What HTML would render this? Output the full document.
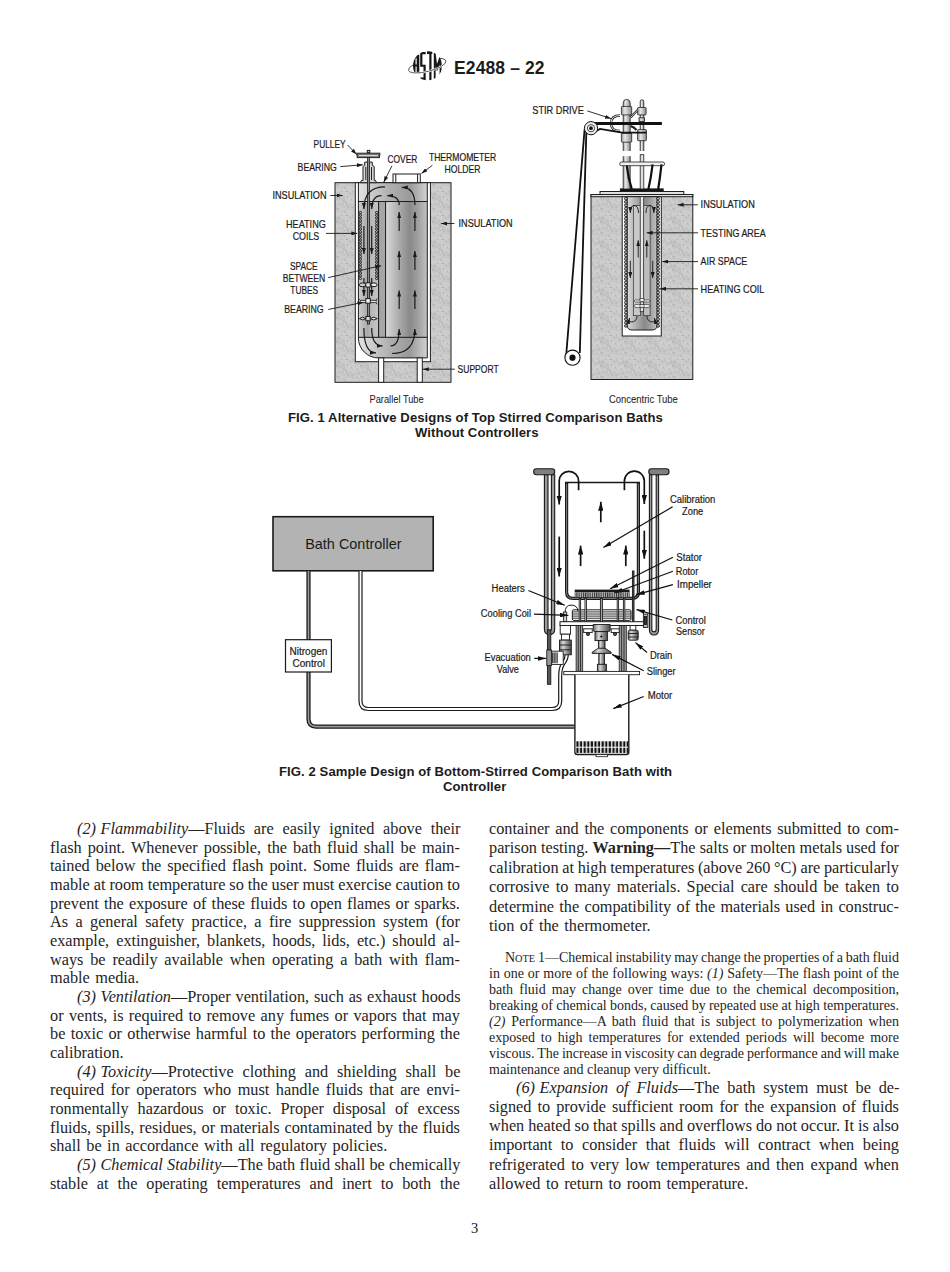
<!DOCTYPE html>
<html><head><meta charset="utf-8"><style>
html,body{margin:0;padding:0;background:#fff}
body{width:950px;height:1272px;position:relative;overflow:hidden}
.t{position:absolute;font-family:"Liberation Serif",serif;font-size:15.8px;line-height:16px;white-space:nowrap;color:#252525;transform:scaleX(1.03);transform-origin:0 0}
.n{position:absolute;font-family:"Liberation Serif",serif;font-size:13.6px;line-height:14px;white-space:nowrap;color:#252525;transform:scaleX(1.03);transform-origin:0 0}
.j{text-align:justify;text-align-last:justify;white-space:normal;height:16px;overflow:visible;word-spacing:-2px}
.w{word-spacing:1.4px}
.s1{display:inline-block;width:4.4px}
.sc{font-variant:small-caps}
.cap{position:absolute;font-family:"Liberation Sans",sans-serif;font-weight:bold;font-size:13.1px;letter-spacing:0.08px;line-height:14px;white-space:nowrap;color:#1c1c1c}
.hdr{position:absolute;font-family:"Liberation Sans",sans-serif;font-weight:bold;font-size:17.5px;letter-spacing:0.12px;line-height:18px;white-space:nowrap;color:#1c1c1c}
.pn{position:absolute;font-family:"Liberation Serif",serif;font-size:13px;line-height:14px;color:#1c1c1c}
svg{position:absolute;left:0;top:0}
</style></head><body>
<svg width="950" height="1272" viewBox="0 0 950 1272"><!--FIG--><defs><clipPath id="lc"><circle cx="427.6" cy="65.8" r="14.6"/></clipPath></defs>
<ellipse cx="427.2" cy="65.6" rx="19.2" ry="5.8" transform="rotate(-14 427.2 65.6)" fill="none" stroke="#333" stroke-width="0.8"/>
<circle cx="427.6" cy="65.8" r="14.6" fill="#fff"/>
<g clip-path="url(#lc)" fill="#161616">
<path d="M411,50 H415.5 V74 H411 Z"/>
<path d="M416.7,54.4 H419.3 V73.8 H416.7 Z"/>
<path d="M415,54.4 H417.5 V58.2 H415 Z"/>
<path d="M415,64.6 H417.5 V66.4 H415 Z"/>
<path d="M420.2,52 H425.7 V54.3 H422.4 V64.7 H425.7 V81 H420.2 V77.4 H423.5 V66.7 H420.2 Z"/>
<path d="M427,51 H432.3 V54.1 H431.5 V81 H429.3 V54.1 H427 Z"/>
<path d="M433.8,53 H435.6 L437,64 L439.4,57 H441.6 V76 H439.6 V64.5 L437.6,70.5 H436.4 L435.6,66 V80 H433.8 Z"/>
</g>
<path d="M408.5,70.3 A19.2,5.8 -14 0 0 445.9,60.9" fill="none" stroke="#fff" stroke-width="2"/>
<path d="M408.5,70.3 A19.2,5.8 -14 0 0 445.9,60.9" fill="none" stroke="#333" stroke-width="0.8"/>
<defs><pattern id="spk" width="24" height="24" patternUnits="userSpaceOnUse"><rect width="24" height="24" fill="#cdcdcd"/><rect x="10.9" y="13.4" width="1.0" height="1.0" fill="#aeaeae"/><rect x="12.2" y="14.1" width="1.2" height="1.2" fill="#b8b8b8"/><rect x="11.4" y="14.7" width="0.9" height="0.9" fill="#b8b8b8"/><rect x="10.7" y="3.4" width="1.2" height="1.2" fill="#c0c0c0"/><rect x="15.2" y="14.3" width="1.0" height="1.0" fill="#aeaeae"/><rect x="15.7" y="14.8" width="1.2" height="1.2" fill="#b8b8b8"/><rect x="0.4" y="12.7" width="0.9" height="0.9" fill="#b2b2b2"/><rect x="4.6" y="5.8" width="1.0" height="1.0" fill="#b2b2b2"/><rect x="7.8" y="14.2" width="1.2" height="1.2" fill="#b8b8b8"/><rect x="5.6" y="7.1" width="1.2" height="1.2" fill="#b2b2b2"/><rect x="2.0" y="15.7" width="1.2" height="1.2" fill="#aeaeae"/><rect x="23.9" y="20.2" width="1.0" height="1.0" fill="#d6d6d6"/><rect x="7.6" y="5.5" width="0.9" height="0.9" fill="#bcbcbc"/><rect x="1.7" y="18.4" width="0.9" height="0.9" fill="#aeaeae"/><rect x="20.3" y="9.3" width="1.2" height="1.2" fill="#b2b2b2"/><rect x="0.0" y="5.0" width="1.0" height="1.0" fill="#b2b2b2"/><rect x="9.0" y="17.0" width="0.9" height="0.9" fill="#aeaeae"/><rect x="13.6" y="4.8" width="1.0" height="1.0" fill="#d6d6d6"/><rect x="8.1" y="7.5" width="1.0" height="1.0" fill="#b2b2b2"/><rect x="18.2" y="2.8" width="1.2" height="1.2" fill="#b8b8b8"/><rect x="2.4" y="1.4" width="0.9" height="0.9" fill="#aeaeae"/><rect x="16.4" y="4.5" width="0.9" height="0.9" fill="#c0c0c0"/><rect x="23.6" y="18.5" width="1.2" height="1.2" fill="#aeaeae"/><rect x="9.2" y="9.5" width="0.9" height="0.9" fill="#b8b8b8"/><rect x="6.5" y="23.3" width="1.0" height="1.0" fill="#c0c0c0"/><rect x="23.9" y="0.5" width="1.0" height="1.0" fill="#b8b8b8"/><rect x="23.9" y="14.4" width="0.9" height="0.9" fill="#c0c0c0"/><rect x="1.0" y="3.5" width="1.0" height="1.0" fill="#aeaeae"/><rect x="0.2" y="14.6" width="1.0" height="1.0" fill="#bcbcbc"/><rect x="1.8" y="2.2" width="1.2" height="1.2" fill="#c0c0c0"/><rect x="5.8" y="14.4" width="1.2" height="1.2" fill="#bcbcbc"/><rect x="10.9" y="23.0" width="1.2" height="1.2" fill="#aeaeae"/><rect x="3.3" y="9.3" width="0.9" height="0.9" fill="#d6d6d6"/><rect x="7.5" y="5.5" width="0.9" height="0.9" fill="#c0c0c0"/><rect x="17.4" y="3.8" width="1.2" height="1.2" fill="#d6d6d6"/><rect x="4.7" y="22.8" width="1.2" height="1.2" fill="#aeaeae"/><rect x="1.9" y="1.1" width="0.9" height="0.9" fill="#b2b2b2"/><rect x="12.3" y="6.1" width="1.2" height="1.2" fill="#d6d6d6"/><rect x="9.4" y="10.1" width="1.0" height="1.0" fill="#c0c0c0"/><rect x="7.0" y="4.2" width="0.9" height="0.9" fill="#d6d6d6"/><rect x="3.0" y="11.5" width="1.2" height="1.2" fill="#d6d6d6"/><rect x="14.7" y="6.7" width="1.2" height="1.2" fill="#b8b8b8"/><rect x="0.4" y="6.5" width="0.9" height="0.9" fill="#aeaeae"/><rect x="1.5" y="4.2" width="1.2" height="1.2" fill="#bcbcbc"/><rect x="13.7" y="3.2" width="0.9" height="0.9" fill="#bcbcbc"/><rect x="21.4" y="23.5" width="1.2" height="1.2" fill="#d6d6d6"/><rect x="16.6" y="14.0" width="1.2" height="1.2" fill="#b8b8b8"/><rect x="0.8" y="0.4" width="1.2" height="1.2" fill="#bcbcbc"/><rect x="7.5" y="0.8" width="1.2" height="1.2" fill="#c0c0c0"/><rect x="1.8" y="1.6" width="1.0" height="1.0" fill="#bcbcbc"/><rect x="3.3" y="1.7" width="1.2" height="1.2" fill="#aeaeae"/><rect x="8.8" y="1.1" width="1.2" height="1.2" fill="#d6d6d6"/><rect x="16.9" y="19.0" width="1.0" height="1.0" fill="#bcbcbc"/><rect x="2.0" y="11.4" width="1.0" height="1.0" fill="#b2b2b2"/><rect x="22.7" y="0.7" width="1.2" height="1.2" fill="#aeaeae"/><rect x="0.3" y="15.9" width="1.2" height="1.2" fill="#aeaeae"/><rect x="0.3" y="1.7" width="1.2" height="1.2" fill="#b2b2b2"/><rect x="2.8" y="6.2" width="1.2" height="1.2" fill="#aeaeae"/><rect x="7.9" y="22.4" width="1.2" height="1.2" fill="#d6d6d6"/><rect x="11.0" y="11.1" width="0.9" height="0.9" fill="#c0c0c0"/><rect x="12.4" y="12.3" width="1.2" height="1.2" fill="#bcbcbc"/><rect x="2.1" y="0.5" width="0.9" height="0.9" fill="#d6d6d6"/><rect x="11.9" y="14.7" width="1.0" height="1.0" fill="#aeaeae"/><rect x="21.5" y="8.8" width="1.2" height="1.2" fill="#b8b8b8"/><rect x="14.7" y="12.4" width="1.2" height="1.2" fill="#bcbcbc"/><rect x="22.3" y="12.0" width="1.0" height="1.0" fill="#b8b8b8"/><rect x="9.7" y="6.0" width="1.0" height="1.0" fill="#d6d6d6"/><rect x="19.3" y="18.1" width="0.9" height="0.9" fill="#b8b8b8"/><rect x="9.2" y="14.0" width="0.9" height="0.9" fill="#bcbcbc"/><rect x="3.3" y="11.9" width="1.2" height="1.2" fill="#b2b2b2"/><rect x="1.5" y="23.5" width="0.9" height="0.9" fill="#b8b8b8"/><rect x="10.8" y="6.6" width="1.0" height="1.0" fill="#b8b8b8"/><rect x="9.2" y="12.5" width="1.0" height="1.0" fill="#d6d6d6"/><rect x="17.2" y="20.2" width="1.0" height="1.0" fill="#c0c0c0"/><rect x="7.7" y="19.9" width="1.2" height="1.2" fill="#bcbcbc"/><rect x="1.0" y="17.0" width="1.0" height="1.0" fill="#c0c0c0"/><rect x="7.4" y="19.0" width="1.2" height="1.2" fill="#b2b2b2"/><rect x="3.3" y="10.9" width="1.0" height="1.0" fill="#b2b2b2"/><rect x="5.7" y="3.4" width="1.2" height="1.2" fill="#b2b2b2"/><rect x="2.8" y="2.6" width="1.2" height="1.2" fill="#c0c0c0"/><rect x="15.4" y="8.8" width="1.2" height="1.2" fill="#b2b2b2"/><rect x="4.8" y="19.8" width="0.9" height="0.9" fill="#bcbcbc"/><rect x="17.1" y="18.1" width="1.2" height="1.2" fill="#c0c0c0"/><rect x="0.9" y="5.4" width="1.2" height="1.2" fill="#bcbcbc"/><rect x="16.7" y="12.5" width="0.9" height="0.9" fill="#c0c0c0"/><rect x="9.4" y="19.0" width="0.9" height="0.9" fill="#b8b8b8"/><rect x="9.9" y="21.4" width="0.9" height="0.9" fill="#aeaeae"/><rect x="10.8" y="4.7" width="1.0" height="1.0" fill="#b2b2b2"/><rect x="13.2" y="15.7" width="1.0" height="1.0" fill="#c0c0c0"/><rect x="11.1" y="15.6" width="0.9" height="0.9" fill="#b8b8b8"/><rect x="17.3" y="19.6" width="1.2" height="1.2" fill="#d6d6d6"/><rect x="3.0" y="5.8" width="0.9" height="0.9" fill="#aeaeae"/><rect x="23.5" y="12.9" width="1.0" height="1.0" fill="#bcbcbc"/><rect x="21.8" y="20.5" width="1.2" height="1.2" fill="#bcbcbc"/><rect x="2.0" y="10.6" width="1.0" height="1.0" fill="#c0c0c0"/><rect x="18.4" y="11.7" width="0.9" height="0.9" fill="#b2b2b2"/><rect x="19.4" y="1.5" width="0.9" height="0.9" fill="#b2b2b2"/><rect x="12.8" y="16.5" width="1.0" height="1.0" fill="#b8b8b8"/><rect x="3.6" y="12.4" width="1.2" height="1.2" fill="#d6d6d6"/><rect x="20.2" y="16.5" width="1.2" height="1.2" fill="#aeaeae"/><rect x="22.8" y="2.1" width="1.0" height="1.0" fill="#b8b8b8"/><rect x="12.6" y="7.0" width="1.2" height="1.2" fill="#d6d6d6"/><rect x="15.3" y="12.5" width="1.0" height="1.0" fill="#c0c0c0"/><rect x="7.5" y="9.1" width="0.9" height="0.9" fill="#c0c0c0"/><rect x="7.3" y="3.4" width="1.2" height="1.2" fill="#c0c0c0"/><rect x="6.6" y="11.9" width="1.2" height="1.2" fill="#aeaeae"/><rect x="2.7" y="0.1" width="0.9" height="0.9" fill="#aeaeae"/><rect x="12.9" y="1.1" width="1.2" height="1.2" fill="#aeaeae"/><rect x="19.2" y="13.5" width="0.9" height="0.9" fill="#aeaeae"/><rect x="16.6" y="1.6" width="1.0" height="1.0" fill="#c0c0c0"/><rect x="9.9" y="23.0" width="1.0" height="1.0" fill="#aeaeae"/><rect x="5.9" y="11.8" width="1.0" height="1.0" fill="#bcbcbc"/><rect x="21.6" y="22.5" width="1.2" height="1.2" fill="#aeaeae"/><rect x="7.6" y="4.6" width="0.9" height="0.9" fill="#c0c0c0"/><rect x="22.2" y="3.1" width="0.9" height="0.9" fill="#b2b2b2"/><rect x="4.7" y="5.5" width="1.0" height="1.0" fill="#d6d6d6"/><rect x="7.7" y="8.5" width="1.0" height="1.0" fill="#c0c0c0"/><rect x="2.5" y="17.5" width="1.2" height="1.2" fill="#b2b2b2"/><rect x="15.0" y="17.2" width="1.2" height="1.2" fill="#d6d6d6"/><rect x="21.1" y="0.6" width="1.0" height="1.0" fill="#d6d6d6"/><rect x="19.8" y="14.8" width="0.9" height="0.9" fill="#c0c0c0"/><rect x="20.7" y="12.8" width="1.2" height="1.2" fill="#b8b8b8"/><rect x="5.2" y="13.0" width="0.9" height="0.9" fill="#c0c0c0"/><rect x="5.6" y="17.8" width="0.9" height="0.9" fill="#bcbcbc"/><rect x="7.6" y="7.6" width="0.9" height="0.9" fill="#b8b8b8"/><rect x="18.7" y="4.7" width="0.9" height="0.9" fill="#b2b2b2"/><rect x="21.3" y="3.2" width="1.0" height="1.0" fill="#b2b2b2"/><rect x="9.3" y="10.4" width="1.2" height="1.2" fill="#aeaeae"/><rect x="19.0" y="3.0" width="1.2" height="1.2" fill="#aeaeae"/><rect x="16.4" y="0.4" width="1.2" height="1.2" fill="#b8b8b8"/><rect x="16.4" y="21.9" width="0.9" height="0.9" fill="#bcbcbc"/><rect x="16.9" y="15.2" width="1.2" height="1.2" fill="#bcbcbc"/><rect x="24.0" y="20.0" width="1.0" height="1.0" fill="#b2b2b2"/><rect x="2.5" y="0.9" width="1.2" height="1.2" fill="#c0c0c0"/><rect x="12.4" y="13.6" width="0.9" height="0.9" fill="#b8b8b8"/><rect x="4.4" y="4.9" width="1.0" height="1.0" fill="#b8b8b8"/><rect x="22.2" y="2.3" width="0.9" height="0.9" fill="#b2b2b2"/><rect x="22.8" y="11.1" width="1.0" height="1.0" fill="#b2b2b2"/><rect x="9.4" y="10.2" width="1.0" height="1.0" fill="#bcbcbc"/><rect x="5.0" y="9.0" width="1.2" height="1.2" fill="#d6d6d6"/><rect x="1.0" y="4.8" width="1.0" height="1.0" fill="#aeaeae"/><rect x="8.6" y="8.9" width="1.2" height="1.2" fill="#b8b8b8"/><rect x="4.0" y="12.3" width="1.0" height="1.0" fill="#b2b2b2"/><rect x="21.4" y="19.2" width="1.2" height="1.2" fill="#d6d6d6"/><rect x="22.6" y="13.7" width="1.2" height="1.2" fill="#b8b8b8"/><rect x="14.0" y="8.2" width="1.0" height="1.0" fill="#bcbcbc"/><rect x="21.9" y="17.9" width="1.0" height="1.0" fill="#b8b8b8"/><rect x="3.2" y="7.9" width="1.2" height="1.2" fill="#c0c0c0"/><rect x="8.9" y="10.4" width="1.0" height="1.0" fill="#b8b8b8"/><rect x="5.0" y="4.4" width="1.0" height="1.0" fill="#bcbcbc"/><rect x="11.3" y="0.3" width="1.2" height="1.2" fill="#bcbcbc"/><rect x="21.7" y="1.2" width="1.2" height="1.2" fill="#bcbcbc"/><rect x="7.2" y="5.2" width="1.2" height="1.2" fill="#aeaeae"/><rect x="4.4" y="1.8" width="1.0" height="1.0" fill="#c0c0c0"/><rect x="15.4" y="16.8" width="1.2" height="1.2" fill="#aeaeae"/><rect x="0.5" y="14.8" width="0.9" height="0.9" fill="#d6d6d6"/><rect x="6.2" y="9.6" width="0.9" height="0.9" fill="#b2b2b2"/><rect x="15.6" y="0.3" width="1.0" height="1.0" fill="#bcbcbc"/><rect x="6.6" y="8.2" width="1.2" height="1.2" fill="#c0c0c0"/><rect x="10.0" y="12.5" width="1.2" height="1.2" fill="#b2b2b2"/><rect x="10.7" y="15.5" width="1.2" height="1.2" fill="#c0c0c0"/><rect x="16.0" y="22.9" width="0.9" height="0.9" fill="#aeaeae"/><rect x="9.3" y="23.3" width="1.2" height="1.2" fill="#aeaeae"/><rect x="14.7" y="1.4" width="1.0" height="1.0" fill="#aeaeae"/><rect x="6.8" y="9.6" width="1.0" height="1.0" fill="#bcbcbc"/><rect x="12.7" y="11.6" width="1.2" height="1.2" fill="#bcbcbc"/><rect x="22.3" y="15.9" width="1.0" height="1.0" fill="#d6d6d6"/><rect x="0.6" y="18.5" width="0.9" height="0.9" fill="#c0c0c0"/><rect x="15.2" y="9.8" width="1.0" height="1.0" fill="#d6d6d6"/><rect x="1.3" y="7.6" width="0.9" height="0.9" fill="#aeaeae"/></pattern>
<linearGradient id="gCyl" x1="0" x2="1" y1="0" y2="0"><stop offset="0" stop-color="#dadada"/><stop offset="0.27" stop-color="#b2b2b2"/><stop offset="0.58" stop-color="#898989"/><stop offset="0.78" stop-color="#a0a0a0"/><stop offset="1" stop-color="#c2c2c2"/></linearGradient>
<linearGradient id="gCover" x1="0" x2="1" y1="0" y2="0">
<stop offset="0" stop-color="#e2e2e2"/><stop offset="0.45" stop-color="#b0b0b0"/><stop offset="0.75" stop-color="#9a9a9a"/><stop offset="1" stop-color="#d2d2d2"/>
</linearGradient>
<linearGradient id="gNar" x1="0" x2="1" y1="0" y2="0"><stop offset="0" stop-color="#cdcdcd"/><stop offset="0.45" stop-color="#a9a9a9"/><stop offset="0.55" stop-color="#b4b4b4"/><stop offset="1" stop-color="#c6c6c6"/></linearGradient>
<linearGradient id="gRod" x1="0" x2="1" y1="0" y2="0">
<stop offset="0" stop-color="#9a9a9a"/><stop offset="0.35" stop-color="#e8e8e8"/><stop offset="1" stop-color="#8a8a8a"/>
</linearGradient>
<marker id="ah" viewBox="0 0 6 4" refX="6" refY="2" markerWidth="6" markerHeight="4" orient="auto-start-reverse" markerUnits="userSpaceOnUse"><path d="M0,0 L6,2 L0,4 z" fill="#1a1a1a"/></marker>
<marker id="ah6" viewBox="0 0 9 5.4" refX="9" refY="2.7" markerWidth="9" markerHeight="5.4" orient="auto-start-reverse" markerUnits="userSpaceOnUse"><path d="M0,0 L9,2.7 L0,5.4 z" fill="#111"/></marker><marker id="ah7" viewBox="0 0 8.5 4.6" refX="8.5" refY="2.3" markerWidth="8.5" markerHeight="4.6" orient="auto-start-reverse" markerUnits="userSpaceOnUse"><path d="M0,0 L8.5,2.3 L0,4.6 z" fill="#111"/></marker>
<filter id="stip" x="0" y="0" width="1" height="1"><feTurbulence type="fractalNoise" baseFrequency="0.9" numOctaves="1" seed="3" result="n"/><feColorMatrix in="n" type="matrix" values="0 0 0 0 0.78  0 0 0 0 0.78  0 0 0 0 0.78  0 0 0 -1.2 0.9" result="c"/><feComposite in="c" in2="SourceGraphic" operator="in"/></filter>
</defs>
<!-- ===== Parallel tube ===== -->
<g stroke="#1e1e1e" stroke-width="1">
<rect x="335" y="182.7" width="116" height="199.6" fill="url(#spk)"/>
<rect x="355.3" y="182.7" width="75.1" height="179" fill="#fff"/>
<!-- cover -->
<rect x="358.4" y="182.7" width="68.9" height="18.8" fill="url(#gCover)"/>
<!-- narrow tube + divider + wide tube -->
<rect x="358.4" y="201.5" width="20.2" height="136" fill="url(#gNar)"/>
<rect x="378.6" y="201.5" width="7" height="136" fill="#a6a6a6"/>
<rect x="385.6" y="201.5" width="41.7" height="136" fill="url(#gCyl)"/>
<!-- bottom -->
<path d="M358.4,337.3 H427.3 V357.9 H378.4 A20,20 0 0 1 358.4,337.9 Z" fill="url(#gCover)"/>
<!-- legs -->
<rect x="378.6" y="357.9" width="5.1" height="24.4" fill="#fff"/>
<rect x="417.2" y="357.9" width="5.1" height="24.4" fill="#fff"/>
<!-- thermometer holder -->
<rect x="393" y="174" width="27.3" height="8.7" fill="#fff"/>
<line x1="395.8" y1="174" x2="395.8" y2="182.7"/><line x1="417.6" y1="174" x2="417.6" y2="182.7"/>
<!-- bearing -->
<path d="M360.3,182.7 L361.5,180.4 H363 V166.5 L364.7,165.5 V162.1 H372.3 V165.5 L374.2,166.5 V180.4 H375.6 L376.4,182.7 Z" fill="#d8d8d8"/>
<line x1="365.8" y1="167" x2="365.8" y2="180"/><line x1="371.5" y1="167" x2="371.5" y2="180"/>
<!-- pulley -->
<rect x="356.8" y="153.2" width="23" height="1.9" fill="#aaa"/>
<rect x="357.2" y="155.9" width="22.2" height="1.7" fill="#ccc"/>
<rect x="358.6" y="155.1" width="19.4" height="0.8" fill="#fff" stroke="none"/>
<rect x="367.3" y="150.4" width="2.5" height="2.2" fill="#ccc"/>
</g>
<!-- shaft -->
<rect x="367.5" y="157.6" width="2" height="166.5" fill="#8a8a8a" stroke="#1e1e1e" stroke-width="0.8"/>
<!-- coils -->
<g fill="#bdbdbd" stroke="#111" stroke-width="0.85">
<circle cx="360.4" cy="212.5" r="1.15"/><circle cx="376.6" cy="212.5" r="1.15"/><circle cx="360.4" cy="215.2" r="1.15"/><circle cx="376.6" cy="215.2" r="1.15"/><circle cx="360.4" cy="218.0" r="1.15"/><circle cx="376.6" cy="218.0" r="1.15"/><circle cx="360.4" cy="220.8" r="1.15"/><circle cx="376.6" cy="220.8" r="1.15"/><circle cx="360.4" cy="223.5" r="1.15"/><circle cx="376.6" cy="223.5" r="1.15"/><circle cx="360.4" cy="226.2" r="1.15"/><circle cx="376.6" cy="226.2" r="1.15"/><circle cx="360.4" cy="229.0" r="1.15"/><circle cx="376.6" cy="229.0" r="1.15"/><circle cx="360.4" cy="231.8" r="1.15"/><circle cx="376.6" cy="231.8" r="1.15"/><circle cx="360.4" cy="234.5" r="1.15"/><circle cx="376.6" cy="234.5" r="1.15"/><circle cx="360.4" cy="237.2" r="1.15"/><circle cx="376.6" cy="237.2" r="1.15"/><circle cx="360.4" cy="240.0" r="1.15"/><circle cx="376.6" cy="240.0" r="1.15"/><circle cx="360.4" cy="242.8" r="1.15"/><circle cx="376.6" cy="242.8" r="1.15"/><circle cx="360.4" cy="245.5" r="1.15"/><circle cx="376.6" cy="245.5" r="1.15"/><circle cx="360.4" cy="248.2" r="1.15"/><circle cx="376.6" cy="248.2" r="1.15"/><circle cx="360.4" cy="251.0" r="1.15"/><circle cx="376.6" cy="251.0" r="1.15"/><circle cx="360.4" cy="253.8" r="1.15"/><circle cx="376.6" cy="253.8" r="1.15"/><circle cx="360.4" cy="256.5" r="1.15"/><circle cx="376.6" cy="256.5" r="1.15"/><circle cx="360.4" cy="259.2" r="1.15"/><circle cx="376.6" cy="259.2" r="1.15"/><circle cx="360.4" cy="262.0" r="1.15"/><circle cx="376.6" cy="262.0" r="1.15"/><circle cx="360.4" cy="264.8" r="1.15"/><circle cx="376.6" cy="264.8" r="1.15"/><circle cx="360.4" cy="267.5" r="1.15"/><circle cx="376.6" cy="267.5" r="1.15"/><circle cx="360.4" cy="270.2" r="1.15"/><circle cx="376.6" cy="270.2" r="1.15"/><circle cx="360.4" cy="273.0" r="1.15"/><circle cx="376.6" cy="273.0" r="1.15"/><circle cx="360.4" cy="275.8" r="1.15"/><circle cx="376.6" cy="275.8" r="1.15"/><circle cx="360.4" cy="278.5" r="1.15"/><circle cx="376.6" cy="278.5" r="1.15"/>
</g>
<!-- flow arrows -->
<g stroke="#1a1a1a" stroke-width="1.2" fill="none" marker-end="url(#ah)">
<path d="M385,186.8 Q364,186.8 363.9,209"/>
<path d="M381.5,195.6 Q371.8,195.6 371.7,209"/>
<path d="M399.2,205 Q399.2,195.6 387.2,195.6"/>
<path d="M414.9,205 Q414.9,187.4 401.8,187.4"/>
<path d="M399.2,231 V212"/><path d="M414.9,231 V212"/>
<path d="M399.2,270 V251"/><path d="M414.9,270 V251"/>
<path d="M399.2,309 V290.5"/><path d="M414.9,309 V290.5"/>
<path d="M363.9,226 V254"/><path d="M371.7,226 V254"/>
<path d="M363.9,278 V296"/><path d="M371.7,278 V296"/>
<path d="M363.9,328 Q363.9,352.8 376,352.8"/>
<path d="M371.7,328 Q371.7,345.9 382.5,345.9"/>
<path d="M390.6,345.9 Q399.2,345.9 399.2,329"/>
<path d="M391.9,353.5 Q414.9,353.5 414.9,329"/>
</g>
<!-- impellers -->
<g stroke="#1a1a1a" stroke-width="1" fill="#cfcfcf">
<ellipse cx="362.6" cy="284.8" rx="3.4" ry="1.9"/><ellipse cx="374" cy="284.8" rx="3.1" ry="1.9" fill="#eee"/>
<rect x="365.9" y="282.8" width="4.3" height="4.3" fill="#eaeaea"/>
<path d="M359.2,299.2 L360.5,300.4 H366 V302.6 H360.5 L359.4,303.8 M370.3,300.4 H375.5 L377.4,298.6 M370.3,302.6 H375.5 L377.4,304.2" fill="none" stroke-width="0.9"/>
<rect x="360.2" y="300.4" width="16" height="2.2" fill="#e6e6e6" stroke-width="0.6"/>
<rect x="365.8" y="298.6" width="4.5" height="4.6" fill="#f2f2f2"/>
<path d="M359.4,318.6 Q362.5,315.8 365.9,318.6 Q362.5,321.4 359.4,318.6Z"/><path d="M370.3,318.6 Q373.8,315.8 377.2,318.6 Q373.8,321.4 370.3,318.6Z" fill="#eee"/>
<rect x="365.9" y="316.4" width="4.3" height="4.4" fill="#d8d8d8"/>
</g>
<!-- leader lines -->
<g stroke="#1a1a1a" stroke-width="0.9" fill="none" marker-end="url(#ah)">
<path d="M347.6,145 L356.6,154.5"/>
<path d="M340.3,166.6 L362.9,164.8"/>
<path d="M330.3,195.5 H342.6"/>
<path d="M326,233.4 H357.3"/>
<path d="M328.2,277.6 L381.2,265.7"/>
<path d="M328.2,309.5 L363.5,302.3"/>
<path d="M391.9,165.9 L383.7,182.3"/>
<path d="M432.4,165.3 L421.4,173.4"/>
<path d="M454.4,223.5 H441"/>
<path d="M454.9,369.2 H422.8"/>
</g>
<g font-family="Liberation Sans, sans-serif" font-size="10.2" fill="#1c1c1c" stroke="#1c1c1c" stroke-width="0.2" transform="translate(0,0.7)">
<text x="313.6" y="147.8" textLength="31.9" lengthAdjust="spacingAndGlyphs">PULLEY</text>
<text x="297.6" y="170.6" textLength="39.3" lengthAdjust="spacingAndGlyphs">BEARING</text>
<text x="272.4" y="198.7" textLength="54.2" lengthAdjust="spacingAndGlyphs">INSULATION</text>
<text x="286" y="227.4" textLength="39.8" lengthAdjust="spacingAndGlyphs">HEATING</text>
<text x="292.7" y="239.2" textLength="26.5" lengthAdjust="spacingAndGlyphs">COILS</text>
<text x="289.9" y="269.8" textLength="27.7" lengthAdjust="spacingAndGlyphs">SPACE</text>
<text x="282.7" y="281.6" textLength="42.5" lengthAdjust="spacingAndGlyphs">BETWEEN</text>
<text x="290.3" y="293.2" textLength="27.9" lengthAdjust="spacingAndGlyphs">TUBES</text>
<text x="284.3" y="312.1" textLength="39.3" lengthAdjust="spacingAndGlyphs">BEARING</text>
<text x="387.5" y="162.5" textLength="29.9" lengthAdjust="spacingAndGlyphs">COVER</text>
<text x="428.9" y="160.3" textLength="67.4" lengthAdjust="spacingAndGlyphs">THERMOMETER</text>
<text x="444.6" y="171.9" textLength="35.9" lengthAdjust="spacingAndGlyphs">HOLDER</text>
<text x="458.5" y="226.6" textLength="54.2" lengthAdjust="spacingAndGlyphs">INSULATION</text>
<text x="457.6" y="372.2" textLength="41" lengthAdjust="spacingAndGlyphs">SUPPORT</text>
<text x="369.5" y="402.8" textLength="54.2" lengthAdjust="spacingAndGlyphs" stroke-width="0.05">Parallel Tube</text>
<text x="532.3" y="113.3" textLength="51.5" lengthAdjust="spacingAndGlyphs">STIR DRIVE</text>
<text x="700.6" y="207.1" textLength="54.2" lengthAdjust="spacingAndGlyphs">INSULATION</text>
<text x="700.6" y="235.9" textLength="65.2" lengthAdjust="spacingAndGlyphs">TESTING AREA</text>
<text x="700.6" y="264.6" textLength="46.6" lengthAdjust="spacingAndGlyphs">AIR SPACE</text>
<text x="700.6" y="292" textLength="63.8" lengthAdjust="spacingAndGlyphs">HEATING COIL</text>
<text x="608.9" y="402.8" textLength="69" lengthAdjust="spacingAndGlyphs" stroke-width="0.05">Concentric Tube</text>
</g>
<!-- ===== Concentric tube ===== -->
<g stroke="#1e1e1e" stroke-width="1">
<rect x="591" y="194.5" width="101.8" height="185" fill="url(#spk)"/>
<rect x="591" y="194.5" width="101.8" height="2.2" fill="#e4e4e4"/>
<rect x="622.2" y="196.7" width="39.1" height="139.3" fill="#fff"/>
<rect x="600" y="191.5" width="83.8" height="3" fill="#e0e0e0"/>
<rect x="620.4" y="188.9" width="42.8" height="2.6" fill="#111"/>
<!-- inner tube -->
<path d="M627.2,196.7 H657.1 V325 Q657.1,330 652.1,330 H632.2 Q627.2,330 627.2,325 Z" fill="url(#gCyl)"/>
<rect x="633.5" y="205.7" width="7" height="110" fill="#c8c8c8" stroke-width="0.6"/>
<rect x="643.7" y="205.7" width="6.4" height="110" fill="#bdbdbd" stroke-width="0.6"/>
<rect x="640.2" y="196.7" width="3.5" height="115" fill="#e8e8e8" stroke-width="0.7"/>
</g>
<g fill="#bdbdbd" stroke="#111" stroke-width="0.85">
<circle cx="625.9" cy="198.6" r="1.4"/><circle cx="658.1" cy="198.6" r="1.4"/><circle cx="625.9" cy="201.9" r="1.4"/><circle cx="658.1" cy="201.9" r="1.4"/><circle cx="625.9" cy="205.3" r="1.4"/><circle cx="658.1" cy="205.3" r="1.4"/><circle cx="625.9" cy="208.6" r="1.4"/><circle cx="658.1" cy="208.6" r="1.4"/><circle cx="625.9" cy="212.0" r="1.4"/><circle cx="658.1" cy="212.0" r="1.4"/><circle cx="625.9" cy="215.3" r="1.4"/><circle cx="658.1" cy="215.3" r="1.4"/><circle cx="625.9" cy="218.7" r="1.4"/><circle cx="658.1" cy="218.7" r="1.4"/><circle cx="625.9" cy="222.0" r="1.4"/><circle cx="658.1" cy="222.0" r="1.4"/><circle cx="625.9" cy="225.4" r="1.4"/><circle cx="658.1" cy="225.4" r="1.4"/><circle cx="625.9" cy="228.7" r="1.4"/><circle cx="658.1" cy="228.7" r="1.4"/><circle cx="625.9" cy="232.1" r="1.4"/><circle cx="658.1" cy="232.1" r="1.4"/><circle cx="625.9" cy="235.4" r="1.4"/><circle cx="658.1" cy="235.4" r="1.4"/><circle cx="625.9" cy="238.8" r="1.4"/><circle cx="658.1" cy="238.8" r="1.4"/><circle cx="625.9" cy="242.1" r="1.4"/><circle cx="658.1" cy="242.1" r="1.4"/><circle cx="625.9" cy="245.5" r="1.4"/><circle cx="658.1" cy="245.5" r="1.4"/><circle cx="625.9" cy="248.8" r="1.4"/><circle cx="658.1" cy="248.8" r="1.4"/><circle cx="625.9" cy="252.2" r="1.4"/><circle cx="658.1" cy="252.2" r="1.4"/><circle cx="625.9" cy="255.5" r="1.4"/><circle cx="658.1" cy="255.5" r="1.4"/><circle cx="625.9" cy="258.9" r="1.4"/><circle cx="658.1" cy="258.9" r="1.4"/><circle cx="625.9" cy="262.2" r="1.4"/><circle cx="658.1" cy="262.2" r="1.4"/><circle cx="625.9" cy="265.6" r="1.4"/><circle cx="658.1" cy="265.6" r="1.4"/><circle cx="625.9" cy="268.9" r="1.4"/><circle cx="658.1" cy="268.9" r="1.4"/><circle cx="625.9" cy="272.3" r="1.4"/><circle cx="658.1" cy="272.3" r="1.4"/><circle cx="625.9" cy="275.7" r="1.4"/><circle cx="658.1" cy="275.7" r="1.4"/><circle cx="625.9" cy="279.0" r="1.4"/><circle cx="658.1" cy="279.0" r="1.4"/><circle cx="625.9" cy="282.4" r="1.4"/><circle cx="658.1" cy="282.4" r="1.4"/><circle cx="625.9" cy="285.7" r="1.4"/><circle cx="658.1" cy="285.7" r="1.4"/><circle cx="625.9" cy="289.1" r="1.4"/><circle cx="658.1" cy="289.1" r="1.4"/><circle cx="625.9" cy="292.4" r="1.4"/><circle cx="658.1" cy="292.4" r="1.4"/><circle cx="625.9" cy="295.8" r="1.4"/><circle cx="658.1" cy="295.8" r="1.4"/><circle cx="625.9" cy="299.1" r="1.4"/><circle cx="658.1" cy="299.1" r="1.4"/><circle cx="625.9" cy="302.5" r="1.4"/><circle cx="658.1" cy="302.5" r="1.4"/><circle cx="625.9" cy="305.8" r="1.4"/><circle cx="658.1" cy="305.8" r="1.4"/><circle cx="625.9" cy="309.2" r="1.4"/><circle cx="658.1" cy="309.2" r="1.4"/><circle cx="625.9" cy="312.5" r="1.4"/><circle cx="658.1" cy="312.5" r="1.4"/><circle cx="625.9" cy="315.9" r="1.4"/><circle cx="658.1" cy="315.9" r="1.4"/><circle cx="625.9" cy="319.2" r="1.4"/><circle cx="658.1" cy="319.2" r="1.4"/><circle cx="625.9" cy="322.6" r="1.4"/><circle cx="658.1" cy="322.6" r="1.4"/><circle cx="625.9" cy="325.9" r="1.4"/><circle cx="658.1" cy="325.9" r="1.4"/>
</g>
<!-- impeller -->
<g stroke="#1e1e1e" stroke-width="0.6" fill="#eee">
<path d="M634,301 q1,-1.8 3,-1 h10 q2,-0.8 3,1 q-1,1.8 -3,1 h-10 q-2,0.8 -3,-1z"/>
<path d="M634,306 q0,-1.6 3,-1.6 h10 q3,0 3,1.6 q0,1.6 -3,1.6 h-10 q-3,0 -3,-1.6z"/>
<rect x="640" y="298.5" width="4" height="3"/>
<rect x="640" y="304.5" width="4" height="3"/>
</g>
<g stroke="#1a1a1a" stroke-width="0.9" fill="none" marker-end="url(#ah)">
<path d="M638.5,213 Q638.5,205.5 634,205.5 Q630.3,205.5 630.3,213"/>
<path d="M646,213 Q646,205.5 650,205.5 Q653.9,205.5 653.9,213"/>
<path d="M630.3,260.8 V278"/><path d="M652.7,260.8 V278"/>
<path d="M638.2,257.6 V240.3"/><path d="M646.8,257.6 V240.3"/>
<path d="M637,316 Q637,322 631,322 Q628.5,322 629.5,318"/>
<path d="M647,316 Q647,322 653,322 Q655.5,322 654.5,318"/>
</g>
<!-- top mechanism -->
<g stroke="#1e1e1e" stroke-width="0.8">
<path d="M623.2,151 V103 Q623.2,99.4 626.7,99.4 Q630.2,99.4 630.2,103 V151" fill="url(#gRod)"/>
<rect x="621.4" y="106.4" width="10.3" height="8.5" rx="0.8" fill="url(#gRod)"/>
<rect x="621.4" y="133.3" width="10.3" height="8.9" rx="0.8" fill="url(#gRod)"/>
<path d="M623.2,156.2 V189 H630.2 V156.2" fill="url(#gRod)"/>
<path d="M640.2,151 V101.5 Q640.2,99.8 642,99.8 Q643.8,99.8 643.8,101.5 V151" fill="url(#gRod)"/>
<rect x="637.6" y="107.5" width="8.5" height="7.4" rx="0.8" fill="url(#gRod)"/>
<rect x="639" y="117.8" width="5.6" height="3.7" fill="url(#gRod)"/>
<rect x="637.6" y="129.6" width="8.8" height="11.1" rx="0.8" fill="url(#gRod)"/>
<rect x="640.2" y="154.7" width="3.6" height="34.3" fill="#ddd"/>
<rect x="619.7" y="162" width="44.9" height="3.7" rx="1.8" fill="#f0f0f0"/>
</g>
<g stroke="#111" stroke-width="2.2" fill="none">
<path d="M626.8,165.7 Q628,178 631.8,189"/>
<path d="M652.6,164.3 Q651,178 648.4,189"/>
<path d="M661.5,164.3 Q660,178 658.2,189"/>
</g>
<g fill="none">
<path d="M620,115.5 Q611,115.5 611,123.5 Q611,131 620,131" stroke="#222" stroke-width="2.4"/>
<path d="M620,115.5 Q611,115.5 611,123.5 Q611,131 620,131" stroke="#ddd" stroke-width="1"/>
<path d="M630.5,117.5 L637.6,110" stroke="#222" stroke-width="2.2"/>
<path d="M630.5,117.5 L637.6,110" stroke="#ddd" stroke-width="0.9"/>
<path d="M630.5,126 Q634,127 636.5,130" stroke="#222" stroke-width="2"/>
<path d="M591,123.5 H661.9" stroke="#111" stroke-width="3.2"/>
<path d="M591,134 L600,129 L622,132.6 H646.4" stroke="#111" stroke-width="1.7"/>
<path d="M584.6,129.4 L566.2,355" stroke="#111" stroke-width="1.8"/>
<path d="M586.4,130.4 L579.8,353" stroke="#111" stroke-width="1.8"/>
</g>
<circle cx="591" cy="128.2" r="6.6" fill="#eee" stroke="#111" stroke-width="1"/>
<circle cx="591" cy="128.2" r="3.6" fill="#fff" stroke="#111" stroke-width="0.8"/>
<circle cx="591" cy="128.2" r="1.9" fill="#111"/>
<circle cx="572.5" cy="357.7" r="7.6" fill="#fff" stroke="#111" stroke-width="1.1"/>
<circle cx="572.5" cy="357.7" r="3.1" fill="#111"/>
<!-- leaders -->
<g stroke="#1a1a1a" stroke-width="0.9" fill="none" marker-end="url(#ah)">
<path d="M587.3,110.9 L611,118.6"/>
<path d="M697.8,204.8 H677.6"/>
<path d="M698,232.8 H646.6"/>
<path d="M698,261.6 H662.3"/>
<path d="M698,288.8 H660"/>
</g>
<defs>
<linearGradient id="gHub" x1="0" x2="1" y1="0" y2="0">
<stop offset="0" stop-color="#6a6a6a"/><stop offset="0.3" stop-color="#d8d8d8"/><stop offset="0.6" stop-color="#9a9a9a"/><stop offset="1" stop-color="#4a4a4a"/>
</linearGradient>
<pattern id="hatch" width="2.2" height="10" patternUnits="userSpaceOnUse"><rect width="2.2" height="10" fill="#bbb"/><rect width="1.1" height="10" fill="#333"/></pattern>
<pattern id="vent" x="575.8" y="741.3" width="3.6" height="11.6" patternUnits="userSpaceOnUse"><rect width="3.6" height="11.6" fill="#fff"/><rect x="0.5" y="0" width="2.3" height="5.5" fill="#111"/><rect x="0.5" y="6.5" width="2.3" height="5.1" fill="#111"/></pattern>
</defs>
<!-- Bath controller -->
<rect x="273" y="516.7" width="160.2" height="54.1" fill="#b3b3b3" stroke="#1a1a1a" stroke-width="1.6"/>
<text x="305.2" y="548.9" font-family="Liberation Sans, sans-serif" font-size="14.4" fill="#1a1a1a" textLength="96.3" lengthAdjust="spacingAndGlyphs">Bath Controller</text>
<!-- pipes (double line) -->
<g fill="none" stroke-linejoin="round">
<path d="M308.5,571 V719 Q308.5,726.6 316,726.6 H574.5" stroke="#1a1a1a" stroke-width="4.2"/>
<path d="M308.5,571 V719 Q308.5,726.6 316,726.6 H574.5" stroke="#9a9a9a" stroke-width="1.6"/>
<path d="M360.5,571 V701 Q360.5,709 368.5,709 H552 Q560.2,709 560.2,701 V676 Q560.2,668 563,664 Q566.8,659 566.8,654" stroke="#1a1a1a" stroke-width="4.2"/>
<path d="M360.5,571 V701 Q360.5,709 368.5,709 H552 Q560.2,709 560.2,701 V676 Q560.2,668 563,664 Q566.8,659 566.8,654" stroke="#fff" stroke-width="1.8"/>
</g>
<!-- nitrogen control -->
<rect x="285.5" y="639.7" width="45.9" height="32.3" fill="#fff" stroke="#1a1a1a" stroke-width="1.2"/>
<g font-family="Liberation Sans, sans-serif" font-size="10" fill="#1c1c1c" stroke="#1c1c1c" stroke-width="0.2" transform="translate(0,0.6)">
<text x="289.5" y="654.2" textLength="37.9" lengthAdjust="spacingAndGlyphs">Nitrogen</text>
<text x="292.4" y="666.5" textLength="32.5" lengthAdjust="spacingAndGlyphs">Control</text>
</g>
<!-- heater U-tubes -->
<g stroke="#1a1a1a" stroke-width="1.1">
<path d="M544.4,474.7 V629 Q544.4,634.6 549.5,634.6 Q554.7,634.6 554.7,629 V474.7 H551.4 V628.6 Q551.4,631.2 549.5,631.2 Q548,631.2 548,628.6 V474.7 Z" fill="#9a9a9a"/>
<path d="M649.4,474.7 V629.5 Q649.4,635 654,635 Q658.6,635 658.6,629.5 V474.7 H656.2 V629 Q656.2,631.8 654,631.8 Q651.8,631.8 651.8,629 V474.7 Z" fill="#9a9a9a"/>
<rect x="533.7" y="468.8" width="21" height="5.9" rx="2.6" fill="#808080" stroke-width="1.1"/>
<rect x="648.8" y="468.8" width="20.2" height="5.9" rx="2.6" fill="#808080" stroke-width="1.1"/>
</g>
<!-- container -->
<path d="M566.6,482.8 V592 Q566.6,598.4 573,598.4 H632 Q638.4,598.4 638.4,592 V482.8 Z" fill="#fff" stroke="none"/><path d="M566.6,482.8 V592 Q566.6,598.4 573,598.4 H632 Q638.4,598.4 638.4,592 V482.8" fill="none" stroke="#1a1a1a" stroke-width="3.2"/>
<path d="M566.6,483.6 V592 Q566.6,598.4 573,598.4 H632 Q638.4,598.4 638.4,592 V483.6" fill="none" stroke="#808080" stroke-width="1"/>
<line x1="565" y1="482.6" x2="640" y2="482.6" stroke="#1a1a1a" stroke-width="1.5"/>
<!-- stator rotor -->
<rect x="574.7" y="589.6" width="54.9" height="2.8" fill="#1a1a1a"/>
<rect x="574.7" y="592.4" width="54.9" height="4.8" fill="url(#hatch)"/>
<!-- cooling coil -->
<g stroke="#1a1a1a" stroke-width="0.8" fill="none">
<rect x="572.3" y="609.8" width="58.7" height="10.6" rx="1.5" fill="#fff" stroke-width="1"/>
<path d="M572.3,611.9 H631 M572.3,614 H631 M572.3,616.1 H631 M572.3,618.2 H631" stroke-width="0.9"/>
<path d="M565,613 Q565,605.1 571,605.1 Q577.5,605.1 577.8,611" stroke-width="1"/>
<rect x="563.5" y="612" width="3.2" height="9.6" fill="#ccc"/>
</g>
<!-- rods below container -->
<g stroke="#1a1a1a" stroke-width="0.9" fill="#fff">
<rect x="579.2" y="598.5" width="1.4" height="23"/><rect x="585" y="598.5" width="1.4" height="23"/>
<rect x="600.4" y="598.5" width="2" height="24" fill="#aaa"/>
<rect x="617.2" y="598.5" width="1.4" height="23"/><rect x="623.4" y="598.5" width="1.4" height="23"/>
<rect x="632.4" y="571" width="1.6" height="50.7" fill="#555"/>
</g>
<!-- plate -->
<rect x="560" y="621.7" width="84.3" height="3.8" fill="#fff" stroke="#1a1a1a" stroke-width="1"/>
<!-- posts -->
<g stroke="#1a1a1a" stroke-width="0.8">
<rect x="576.1" y="625.5" width="6.6" height="45.9" fill="#999"/>
<line x1="578.3" y1="625.5" x2="578.3" y2="671.4"/><line x1="580.5" y1="625.5" x2="580.5" y2="671.4"/>
<rect x="619.2" y="625.5" width="7.1" height="45.9" fill="#999"/>
<line x1="621.6" y1="625.5" x2="621.6" y2="671.4"/><line x1="624" y1="625.5" x2="624" y2="671.4"/>
</g>
<!-- hub, slinger -->
<g stroke="#1a1a1a" stroke-width="0.9">
<rect x="583.7" y="628.8" width="8.5" height="3.8" fill="#fff"/><circle cx="588" cy="634" r="1.6" fill="#555"/>
<rect x="611.2" y="628.8" width="8" height="3.8" fill="#fff"/><circle cx="615" cy="634" r="1.6" fill="#555"/>
<path d="M593.2,624.5 H610.2 V630 Q610.2,631.6 608.5,631.6 H594.9 Q593.2,631.6 593.2,630 Z" fill="url(#gHub)"/>
<rect x="595" y="631.6" width="12.4" height="9" fill="url(#gHub)"/>
<circle cx="601.3" cy="636.5" r="0.7" fill="#111"/>
<rect x="598.4" y="640.6" width="6.6" height="8" fill="url(#gHub)"/>
<path d="M598.4,648.2 H605 L611.2,652.2 V653.4 H592.2 V652.2 Z" fill="url(#gHub)"/>
<rect x="598.8" y="653.4" width="5.7" height="11" fill="url(#gHub)"/>
<rect x="597.4" y="664.3" width="9" height="7.1" fill="url(#gHub)"/>
<!-- drain -->
<rect x="630.1" y="625.5" width="5.7" height="4.7" fill="#fff"/>
<rect x="628.2" y="630.2" width="10" height="10" rx="1.5" fill="url(#gHub)"/>
<line x1="628.2" y1="633.5" x2="638.2" y2="633.5"/><line x1="628.2" y1="637" x2="638.2" y2="637"/>
<!-- control sensor bracket -->
<rect x="643.4" y="614.1" width="4.4" height="13.3" fill="#bbb"/>
<rect x="644.5" y="616.5" width="2" height="8" fill="#333"/>
<!-- left fittings -->
<rect x="560.2" y="625.5" width="10.3" height="8.7" fill="#fff"/>
<rect x="561.5" y="634.2" width="8" height="5.9" fill="#fff"/>
<rect x="559.5" y="640.1" width="11.8" height="14.7" fill="url(#gHub)"/>
<line x1="559.5" y1="645" x2="571.3" y2="645"/><line x1="559.5" y1="649.8" x2="571.3" y2="649.8"/>
<!-- valve -->
<rect x="547.4" y="629.8" width="3.4" height="54.5" fill="#555"/>
<rect x="550.8" y="651.2" width="12.4" height="13.2" fill="#fff"/>
<rect x="552" y="652.4" width="6" height="10.8" fill="url(#hatch)" stroke="none"/>
<rect x="546.8" y="650" width="4.6" height="15.6" fill="#999"/>
<!-- motor plate + motor -->
<rect x="563.8" y="671.4" width="75.8" height="3.3" fill="#fff"/>
<path d="M574.9,674.7 V752 Q574.9,754.5 577.4,754.5 H626.3 Q628.8,754.5 628.8,752 V674.7" fill="#fff" stroke-width="1.4"/>
<rect x="596" y="754.5" width="11.4" height="2.2" fill="#fff" stroke-width="0.8"/>
</g>
<rect x="575.8" y="741.3" width="52.2" height="11.6" fill="url(#vent)"/>
<!-- flow arrows -->
<g stroke="#111" stroke-width="1.7" fill="none" marker-end="url(#ah6)">
<path d="M578.6,490.2 V481 A9.7,9.7 0 0 0 559.2,481 V504.5"/>
<path d="M624.4,490.2 V481 A9.95,9.95 0 0 1 644.3,481 V504"/>
<path d="M559.2,536.6 V576.5"/>
<path d="M644.3,530.7 V558.7"/>
<path d="M600.8,522.3 V501.8"/>
<path d="M580.6,566.1 V545.6"/>
<path d="M625.8,566.1 V545.6"/>
</g>
<!-- leaders -->
<g stroke="#111" stroke-width="1.2" fill="none" marker-end="url(#ah7)">
<path d="M672.6,506.8 L603.4,547.6"/>
<path d="M672.9,557.3 L610.1,588.8"/>
<path d="M672.9,571.2 L614.3,593"/>
<path d="M672.9,584.6 L636.2,594.7"/>
<path d="M528.4,590.5 L564.7,605.3"/>
<path d="M534,614.2 L568.4,615.3"/>
<path d="M534.2,658.4 H546.3"/>
<path d="M672.3,620 L636.5,609.6"/>
<path d="M647,652.5 L635.4,642.6"/>
<path d="M643.7,670.7 L612.1,654.4"/>
<path d="M643.7,696.5 L613.3,708.6"/>
</g>
<g font-family="Liberation Sans, sans-serif" font-size="10" fill="#1c1c1c" stroke="#1c1c1c" stroke-width="0.2" transform="translate(0,0.6)">
<text x="670" y="502.9" textLength="45.3" lengthAdjust="spacingAndGlyphs">Calibration</text>
<text x="682.1" y="514.7" textLength="21.1" lengthAdjust="spacingAndGlyphs">Zone</text>
<text x="676.3" y="560.2" textLength="25.8" lengthAdjust="spacingAndGlyphs">Stator</text>
<text x="675.8" y="574.2" textLength="22.5" lengthAdjust="spacingAndGlyphs">Rotor</text>
<text x="677" y="587.1" textLength="34.9" lengthAdjust="spacingAndGlyphs">Impeller</text>
<text x="675.6" y="623" textLength="30.2" lengthAdjust="spacingAndGlyphs">Control</text>
<text x="676.1" y="634.7" textLength="28.6" lengthAdjust="spacingAndGlyphs">Sensor</text>
<text x="649.9" y="658" textLength="22.4" lengthAdjust="spacingAndGlyphs">Drain</text>
<text x="646.7" y="674.5" textLength="28.9" lengthAdjust="spacingAndGlyphs">Slinger</text>
<text x="647.7" y="698.7" textLength="24.6" lengthAdjust="spacingAndGlyphs">Motor</text>
<text x="491.6" y="591.6" textLength="33.1" lengthAdjust="spacingAndGlyphs">Heaters</text>
<text x="480.8" y="616.5" textLength="50.2" lengthAdjust="spacingAndGlyphs">Cooling Coil</text>
<text x="484.5" y="660.5" textLength="46.3" lengthAdjust="spacingAndGlyphs">Evacuation</text>
<text x="496.8" y="672.1" textLength="22.1" lengthAdjust="spacingAndGlyphs">Valve</text>
</g>
<!--/FIG--></svg>
<div class="hdr" style="left:454px;top:58.7px">E2488 – 22</div>
<div class="cap" style="left:288px;top:411px">FIG. 1 Alternative Designs of Top Stirred Comparison Baths</div>
<div class="cap" style="left:415px;top:426px">Without Controllers</div>
<div class="cap" style="left:279px;top:765px">FIG. 2 Sample Design of Bottom-Stirred Comparison Bath with</div>
<div class="cap" style="left:443px;top:780px">Controller</div>
<!--TXT-->
<div class="t j" style="left:76.7px;width:372.3px;top:821.1px"><i>(2)<span class="s1"></span>Flammability</i>—Fluids are easily ignited above their</div>
<div class="t j" style="left:50.3px;width:398.0px;top:839.7px">flash point. Whenever possible, the bath fluid shall be main-</div>
<div class="t j" style="left:50.3px;width:398.0px;top:858.4px">tained below the specified flash point. Some fluids are flam-</div>
<div class="t j" style="left:50.3px;width:398.0px;top:877.0px">mable at room temperature so the user must exercise caution to</div>
<div class="t j" style="left:50.3px;width:398.0px;top:895.7px">prevent the exposure of these fluids to open flames or sparks.</div>
<div class="t j" style="left:50.3px;width:398.0px;top:914.4px">As a general safety practice, a fire suppression system (for</div>
<div class="t j" style="left:50.3px;width:398.0px;top:933.0px">example, extinguisher, blankets, hoods, lids, etc.) should al-</div>
<div class="t j" style="left:50.3px;width:398.0px;top:951.7px">ways be readily available when operating a bath with flam-</div>
<div class="t w" style="left:50.3px;top:970.3px">mable media.</div>
<div class="t j" style="left:76.7px;width:372.3px;top:989.0px"><i>(3)<span class="s1"></span>Ventilation</i>—Proper ventilation, such as exhaust hoods</div>
<div class="t j" style="left:50.3px;width:398.0px;top:1007.7px">or vents, is required to remove any fumes or vapors that may</div>
<div class="t j" style="left:50.3px;width:398.0px;top:1026.3px">be toxic or otherwise harmful to the operators performing the</div>
<div class="t w" style="left:50.3px;top:1045.0px">calibration.</div>
<div class="t j" style="left:76.7px;width:372.3px;top:1063.6px"><i>(4)<span class="s1"></span>Toxicity</i>—Protective clothing and shielding shall be</div>
<div class="t j" style="left:50.3px;width:398.0px;top:1082.3px">required for operators who must handle fluids that are envi-</div>
<div class="t j" style="left:50.3px;width:398.0px;top:1101.0px">ronmentally hazardous or toxic. Proper disposal of excess</div>
<div class="t j" style="left:50.3px;width:398.0px;top:1119.6px">fluids, spills, residues, or materials contaminated by the fluids</div>
<div class="t w" style="left:50.3px;top:1138.3px">shall be in accordance with all regulatory policies.</div>
<div class="t j" style="left:76.7px;width:372.3px;top:1156.9px"><i>(5)<span class="s1"></span>Chemical Stability</i>—The bath fluid shall be chemically</div>
<div class="t j" style="left:50.3px;width:398.0px;top:1175.6px">stable at the operating temperatures and inert to both the</div>
<div class="t j" style="left:489.3px;width:398.0px;top:820.8px">container and the components or elements submitted to com-</div>
<div class="t j" style="left:489.3px;width:398.0px;top:839.7px">parison testing. <b>Warning—</b>The salts or molten metals used for</div>
<div class="t j" style="left:489.3px;width:398.0px;top:859.6px">calibration at high temperatures (above 260 °C) are particularly</div>
<div class="t j" style="left:489.3px;width:398.0px;top:878.9px">corrosive to many materials. Special care should be taken to</div>
<div class="t j" style="left:489.3px;width:398.0px;top:898.6px">determine the compatibility of the materials used in construc-</div>
<div class="t w" style="left:489.3px;top:918.2px">tion of the thermometer.</div>
<div class="n j" style="left:505.2px;width:382.5px;top:951.4px"><span class="sc">Note</span> 1—Chemical instability may change the properties of a bath fluid</div>
<div class="n j" style="left:489.3px;width:398.0px;top:967.1px">in one or more of the following ways: <i>(1)</i> Safety—The flash point of the</div>
<div class="n j" style="left:489.3px;width:398.0px;top:983.2px">bath fluid may change over time due to the chemical decomposition,</div>
<div class="n j" style="left:489.3px;width:398.0px;top:998.9px">breaking of chemical bonds, caused by repeated use at high temperatures.</div>
<div class="n j" style="left:489.3px;width:398.0px;top:1014.9px"><i>(2)</i> Performance—A bath fluid that is subject to polymerization when</div>
<div class="n j" style="left:489.3px;width:398.0px;top:1030.9px">exposed to high temperatures for extended periods will become more</div>
<div class="n j" style="left:489.3px;width:398.0px;top:1047.0px">viscous. The increase in viscosity can degrade performance and will make</div>
<div class="n" style="left:489.3px;top:1063.1px">maintenance and cleanup very difficult.</div>
<div class="t j" style="left:515.7px;width:372.3px;top:1079.6px"><i>(6)<span class="s1"></span>Expansion of Fluids</i>—The bath system must be de-</div>
<div class="t j" style="left:489.3px;width:398.0px;top:1098.6px">signed to provide sufficient room for the expansion of fluids</div>
<div class="t j" style="left:489.3px;width:398.0px;top:1118.1px">when heated so that spills and overflows do not occur. It is also</div>
<div class="t j" style="left:489.3px;width:398.0px;top:1137.1px">important to consider that fluids will contract when being</div>
<div class="t j" style="left:489.3px;width:398.0px;top:1156.7px">refrigerated to very low temperatures and then expand when</div>
<div class="t w" style="left:489.3px;top:1176.3px">allowed to return to room temperature.</div>
<!--/TXT-->
<div class="pn" style="left:471px;top:1221.2px;font-size:14.5px">3</div>
</body></html>
